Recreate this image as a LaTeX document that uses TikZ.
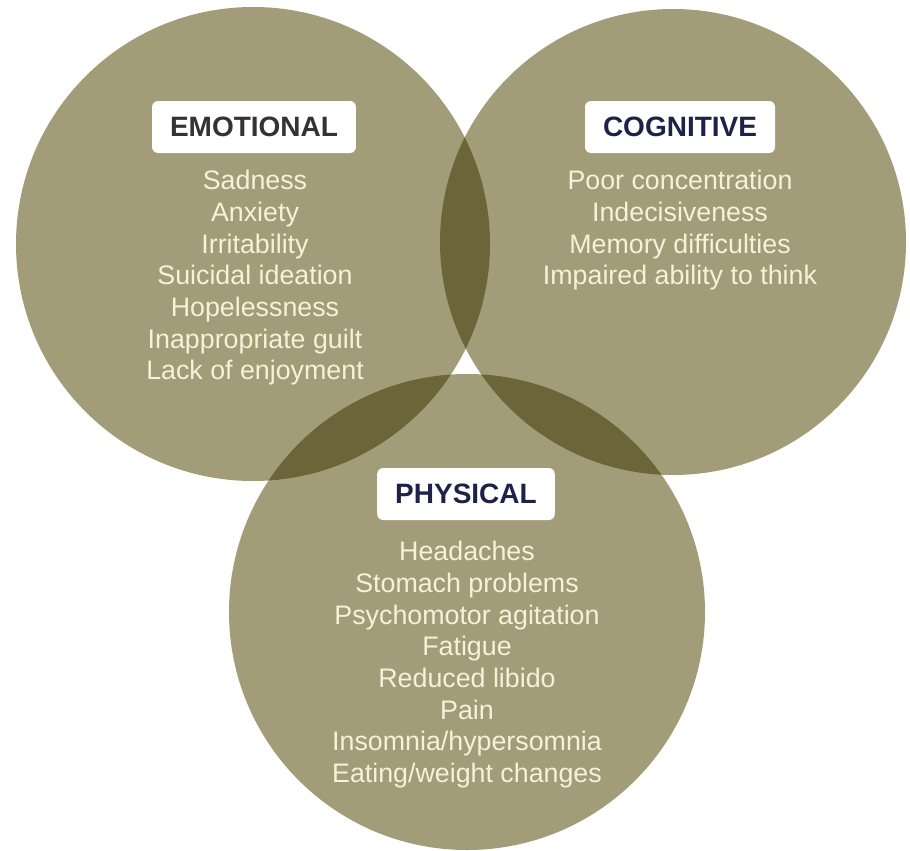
\documentclass[tikz,border=0pt]{standalone}
\usepackage{fontspec}
\setmainfont{Liberation Sans}
\definecolor{khaki}{HTML}{A39C78}
\definecolor{darkkhaki}{HTML}{6B6539}
\definecolor{cream}{HTML}{F6F1DA}
\definecolor{navy}{HTML}{1F2248}
\definecolor{slate}{HTML}{333333}
\tikzset{
	heading/.style={fill=white, rounded corners=6pt, inner xsep=18pt, minimum height=52pt, font=\fontsize{28}{32}\selectfont\bfseries},
	items/.style={align=center, inner sep=0pt, anchor=north, text=cream, font=\fontsize{26.8}{31.7}\selectfont},
}

\begin{document}
\begin{tikzpicture}[x=1pt, y=-1pt]
	\useasboundingbox (0,0) rectangle (910,851);
	\coordinate (emo) at (253,244);
	\coordinate (cog) at (673,242);
	\coordinate (phy) at (467,612);
	% the three circles
	\fill[khaki] (emo) circle[radius=237pt];
	\fill[khaki] (cog) circle[radius=233pt];
	\fill[khaki] (phy) circle[radius=238pt];
	% overlaps
	\begin{scope}
		\clip (emo) circle[radius=237pt];
		\fill[darkkhaki] (cog) circle[radius=233pt];
		\fill[darkkhaki] (phy) circle[radius=238pt];
	\end{scope}
	\begin{scope}
		\clip (cog) circle[radius=233pt];
		\fill[darkkhaki] (phy) circle[radius=238pt];
	\end{scope}
	% headings
	\node[heading, text=slate] (emohead) at (254,127) {EMOTIONAL};
	\node[heading, text=navy] (coghead) at (680,127) {COGNITIVE};
	\node[heading, text=navy] (phyhead) at (466,494) {PHYSICAL};
	% symptom lists
	\node[items] (emolist) at (255,170) {Sadness\\Anxiety\\Irritability\\Suicidal ideation\\Hopelessness\\Inappropriate guilt\\Lack of enjoyment};
	\node[items] (coglist) at (680,170) {Poor concentration\\Indecisiveness\\Memory difficulties\\Impaired ability to think};
	\node[items] (phylist) at (467,541) {Headaches\\Stomach problems\\Psychomotor agitation\\Fatigue\\Reduced libido\\Pain\\Insomnia/hypersomnia\\Eating/weight changes};
\end{tikzpicture}
\end{document}
